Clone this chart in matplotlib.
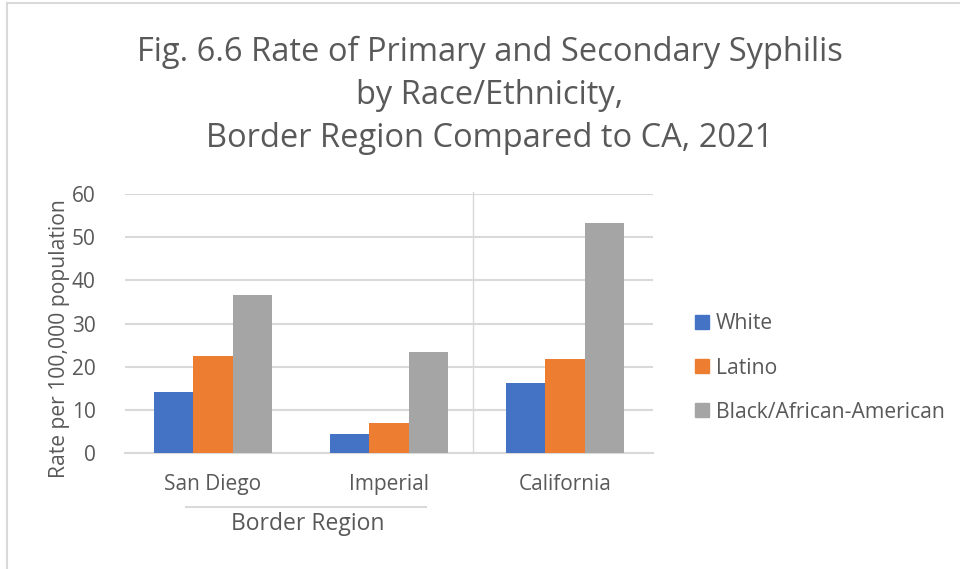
import matplotlib

matplotlib.use("Agg")
import matplotlib.pyplot as plt
import numpy as np
from matplotlib.lines import Line2D
from matplotlib.patches import Patch

plt.rcParams["font.family"] = ["Open Sans", "DejaVu Sans"]

regions = ["San Diego", "Imperial", "California"]
groups = ["White", "Latino", "Black/African-American"]
white = [14.1, 4.5, 16.3]
latino = [22.4, 6.9, 21.8]
black = [36.6, 23.3, 53.3]
colors = ["#4472C4", "#ED7D31", "#A5A5A5"]
yticks = [0, 10, 20, 30, 40, 50, 60]

TEXT = "#595959"
GRID = "#D9D9D9"
W, H = 960, 569

fig = plt.figure(figsize=(W / 100, H / 100), dpi=100, facecolor="white")
ax = fig.add_axes([125 / W, 1 - 453 / H, (653 - 125) / W, (453 - 194) / H])

x = np.arange(len(regions))
bw = 0.667 / 3
for i, (vals, c) in enumerate(zip([white, latino, black], colors)):
    ax.bar(x + (i - 1) * bw, vals, bw, color=c, zorder=3)

ax.set_xlim(-0.5, 2.5)
ax.set_ylim(0, 60)
ax.set_yticks(yticks)
ax.yaxis.grid(True, color=GRID, lw=1.5, zorder=0)
ax.set_xticks(x)
ax.set_xticklabels(regions)
ax.tick_params(axis="both", length=0, colors=TEXT, labelsize=15)
ax.tick_params(axis="x", pad=15)
ax.tick_params(axis="y", pad=21)
for s in ["top", "right", "left"]:
    ax.spines[s].set_visible(False)
ax.spines["bottom"].set_color(GRID)
ax.spines["bottom"].set_linewidth(1.5)

# separator between border counties and state total
ax.plot([1.475, 1.475], [0, 60.5], color=GRID, lw=1, clip_on=False, zorder=1)

# group label for the border counties
fig.add_artist(Line2D([186 / W, 426 / W], [1 - 507 / H] * 2, color=GRID, lw=1.5))
fig.text(308 / W, 1 - 524 / H, "Border Region", ha="center", va="center",
         color=TEXT, fontsize=16.5)

fig.text(60 / W, 1 - 339 / H, "Rate per 100,000 population", rotation=90,
         ha="center", va="center", color=TEXT, fontsize=15.2)

fig.text(490 / W, 1 - 95 / H,
         "Fig. 6.6 Rate of Primary and Secondary Syphilis\nby Race/Ethnicity,\n"
         "Border Region Compared to CA, 2021",
         ha="center", va="center", color=TEXT, fontsize=23.5, linespacing=1.4)

handles = [Patch(color=c) for c in colors]
fig.legend(handles, groups, loc="center left", bbox_to_anchor=(695 / W, 1 - 368 / H),
           frameon=False, fontsize=15.2, labelcolor=TEXT, handlelength=0.65,
           handleheight=0.65, handletextpad=0.35, labelspacing=1.1, borderpad=0,
           borderaxespad=0)

# chart frame (left and top edges visible in the crop)
fig.add_artist(Line2D([7 / W, 7 / W], [0, 1 - 3 / H], color=GRID, lw=1.5))
fig.add_artist(Line2D([7 / W, 1], [1 - 3 / H] * 2, color=GRID, lw=1.5))

fig.savefig("out.png", dpi=100, facecolor="white")
